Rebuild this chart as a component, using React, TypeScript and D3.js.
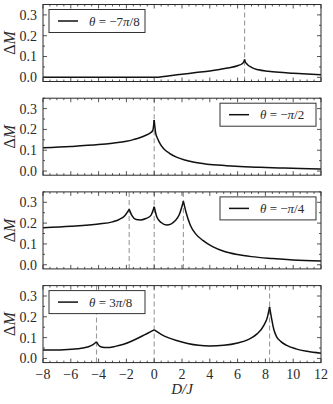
import React from "react";
import * as d3 from "d3";

// theta labels for each panel (numerator part before π, denominator after)
const thetaPre = ["−7", "−", "−", "3"];
const thetaPost = ["/8", "/2", "/4", "/8"];
const legendSide = ["left", "right", "right", "left"];

// cusp / dashed line positions (D/J)
const cusps1 = [6.5];
const cusps2 = [0];
const cusps3 = [-1.8, 0, 2.1];
const cusps4 = [-4.15, 0, 8.3];

// ΔM vs D/J
const series1: [number, number][] = [
  [-8, 0], [-4, 0], [0, 0], [1, 0.007], [2, 0.015], [3, 0.023], [4, 0.031],
  [4.7, 0.038], [5.4, 0.046], [6.0, 0.056], [6.3, 0.064], [6.45, 0.074],
  [6.5, 0.086], [6.55, 0.075], [6.7, 0.062], [7.0, 0.048], [7.5, 0.036],
  [8.2, 0.029], [9.0, 0.024], [10, 0.02], [11, 0.016], [12, 0.013],
];
const series2: [number, number][] = [
  [-8, 0.112], [-6, 0.118], [-4, 0.127], [-3, 0.134], [-2, 0.143], [-1.5, 0.151],
  [-1, 0.161], [-0.6, 0.172], [-0.3, 0.182], [-0.1, 0.195], [0, 0.245],
  [0.1, 0.185], [0.25, 0.155], [0.45, 0.128], [0.7, 0.106], [1.1, 0.085],
  [1.6, 0.067], [2.2, 0.053], [2.8, 0.043], [3.8, 0.033], [5.2, 0.026],
  [6.5, 0.021], [7.6, 0.018], [9, 0.015], [10.5, 0.012], [12, 0.01],
];
const series3: [number, number][] = [
  [-8, 0.178], [-6, 0.185], [-4, 0.196], [-3, 0.206], [-2.5, 0.218],
  [-2.1, 0.237], [-1.8, 0.266], [-1.6, 0.236], [-1.3, 0.217], [-1.0, 0.215],
  [-0.6, 0.222], [-0.25, 0.236], [0, 0.279], [0.2, 0.228], [0.5, 0.203],
  [0.9, 0.191], [1.2, 0.195], [1.5, 0.211], [1.8, 0.24], [2.1, 0.305],
  [2.3, 0.25], [2.6, 0.19], [3.0, 0.147], [3.5, 0.117], [4.2, 0.087],
  [5, 0.065], [6, 0.049], [7, 0.039], [8.5, 0.03], [10, 0.023], [12, 0.018],
];
const series4: [number, number][] = [
  [-8, 0.04], [-6.5, 0.042], [-5.5, 0.047], [-4.8, 0.055], [-4.4, 0.066],
  [-4.15, 0.08], [-4.0, 0.064], [-3.8, 0.055], [-3.4, 0.052], [-2.8, 0.058],
  [-2.2, 0.068], [-1.6, 0.084], [-1.0, 0.103], [-0.5, 0.12], [0, 0.137],
  [0.5, 0.116], [1.0, 0.1], [1.6, 0.086], [2.4, 0.072], [3.2, 0.063],
  [4, 0.06], [5, 0.063], [6, 0.074], [6.8, 0.092], [7.4, 0.118], [7.9, 0.16],
  [8.15, 0.2], [8.3, 0.248], [8.45, 0.19], [8.6, 0.14], [8.8, 0.105],
  [9.1, 0.082], [9.5, 0.064], [10.2, 0.046], [11, 0.034], [12, 0.025],
];

const allSeries = [series1, series2, series3, series4];
const allCusps = [cusps1, cusps2, cusps3, cusps4];

const xTicks = [-8, -6, -4, -2, 0, 2, 4, 6, 8, 10, 12];
const yTicks = [0, 0.1, 0.2, 0.3];

const W = 333;
const H = 404;
const left = 43;
const right = 321;
const panelH = 77;
const panelStep = 93.7;
const top0 = 4.5;
const font = "'Liberation Serif', 'Times New Roman', serif";
const ink = "#2a2a2a";

// split a series at the cusp x positions so every piece stays smooth
function splitAtCusps(data: [number, number][], cusps: number[]) {
  const pieces: [number, number][][] = [];
  let cur: [number, number][] = [];
  data.forEach((p) => {
    cur.push(p);
    if (cusps.some((c) => Math.abs(c - p[0]) < 1e-9)) {
      pieces.push(cur);
      cur = [p];
    }
  });
  if (cur.length > 1) pieces.push(cur);
  return pieces;
}

function Panel({ i }: { i: number }) {
  const top = top0 + i * panelStep;
  const bottom = top + panelH;
  const x = d3.scaleLinear().domain([-8, 12]).range([left, right]);
  const y = d3.scaleLinear().domain([-0.02, 0.35]).range([bottom, top]);
  const line = d3
    .line<[number, number]>()
    .x((d) => x(d[0]))
    .y((d) => y(d[1]))
    .curve(d3.curveMonotoneX);
  const pieces = splitAtCusps(allSeries[i], allCusps[i]);
  const xMinor = d3.range(-8, 12.001, 0.5);
  const yMinor = d3.range(0, 0.351, 0.05);
  const legW = 96;
  const legX = legendSide[i] === "left" ? left + 6 : right - 5 - legW;
  const legY = top + 5;
  const last = i === 3;

  return (
    <g>
      {allCusps[i].map((c, k) => (
        <line
          key={"c" + k}
          x1={x(c)}
          x2={x(c)}
          y1={top}
          y2={bottom}
          stroke="#9a9a9a"
          strokeWidth={1.1}
          strokeDasharray="5,3"
        />
      ))}
      {pieces.map((p, k) => (
        <path
          key={"p" + k}
          d={line(p) || ""}
          fill="none"
          stroke="#111"
          strokeWidth={1.5}
          strokeLinejoin="miter"
        />
      ))}
      {xMinor.map((t, k) => {
        const major = Math.abs(t % 2) < 1e-9;
        const len = major ? 4 : 2;
        return (
          <g key={"xt" + k}>
            <line x1={x(t)} x2={x(t)} y1={bottom} y2={bottom - len} stroke={ink} strokeWidth={0.8} />
            <line x1={x(t)} x2={x(t)} y1={top} y2={top + len} stroke={ink} strokeWidth={0.8} />
          </g>
        );
      })}
      {yMinor.map((t, k) => {
        const major = k % 2 === 0;
        const len = major ? 4 : 2;
        return (
          <g key={"yt" + k}>
            <line x1={left} x2={left + len} y1={y(t)} y2={y(t)} stroke={ink} strokeWidth={0.8} />
            <line x1={right} x2={right - len} y1={y(t)} y2={y(t)} stroke={ink} strokeWidth={0.8} />
          </g>
        );
      })}
      <rect x={left} y={top} width={right - left} height={panelH} fill="none" stroke={ink} strokeWidth={1} />
      {yTicks.map((t) => (
        <text
          key={"yl" + t}
          x={left - 6}
          y={y(t)}
          dy="0.35em"
          textAnchor="end"
          fontSize={14}
          fontFamily={font}
          fill={ink}
        >
          {t.toFixed(1)}
        </text>
      ))}
      <text
        transform={`translate(15,${(top + bottom) / 2}) rotate(-90)`}
        textAnchor="middle"
        fontSize={16}
        fontFamily={font}
        fill={ink}
      >
        Δ<tspan fontStyle="italic">M</tspan>
      </text>
      {last &&
        xTicks.map((t) => (
          <text
            key={"xl" + t}
            x={x(t)}
            y={bottom + 16}
            textAnchor="middle"
            fontSize={14}
            fontFamily={font}
            fill={ink}
          >
            {t < 0 ? "−" + Math.abs(t) : t}
          </text>
        ))}
      <rect x={legX} y={legY} width={legW} height={23} fill="white" stroke="#333" strokeWidth={1} />
      <line x1={legX + 9} x2={legX + 29} y1={legY + 11.5} y2={legY + 11.5} stroke="#111" strokeWidth={1.5} />
      <text x={legX + 40} y={legY + 16} fontSize={13} fontFamily={font} fill={ink}>
        <tspan fontStyle="italic">θ</tspan>
        <tspan> = </tspan>
        <tspan>{thetaPre[i]}</tspan>
        <tspan fontStyle="italic">π</tspan>
        <tspan>{thetaPost[i]}</tspan>
      </text>
    </g>
  );
}

export default function App() {
  return (
    <svg
      width={W}
      height={H}
      style={{ position: "absolute", left: 0, top: 0, background: "white" }}
    >
      {[0, 1, 2, 3].map((i) => (
        <Panel key={i} i={i} />
      ))}
      <text
        x={(left + right) / 2}
        y={394}
        textAnchor="middle"
        fontSize={15}
        fontFamily={font}
        fontStyle="italic"
        fill={ink}
      >
        D/J
      </text>
    </svg>
  );
}
